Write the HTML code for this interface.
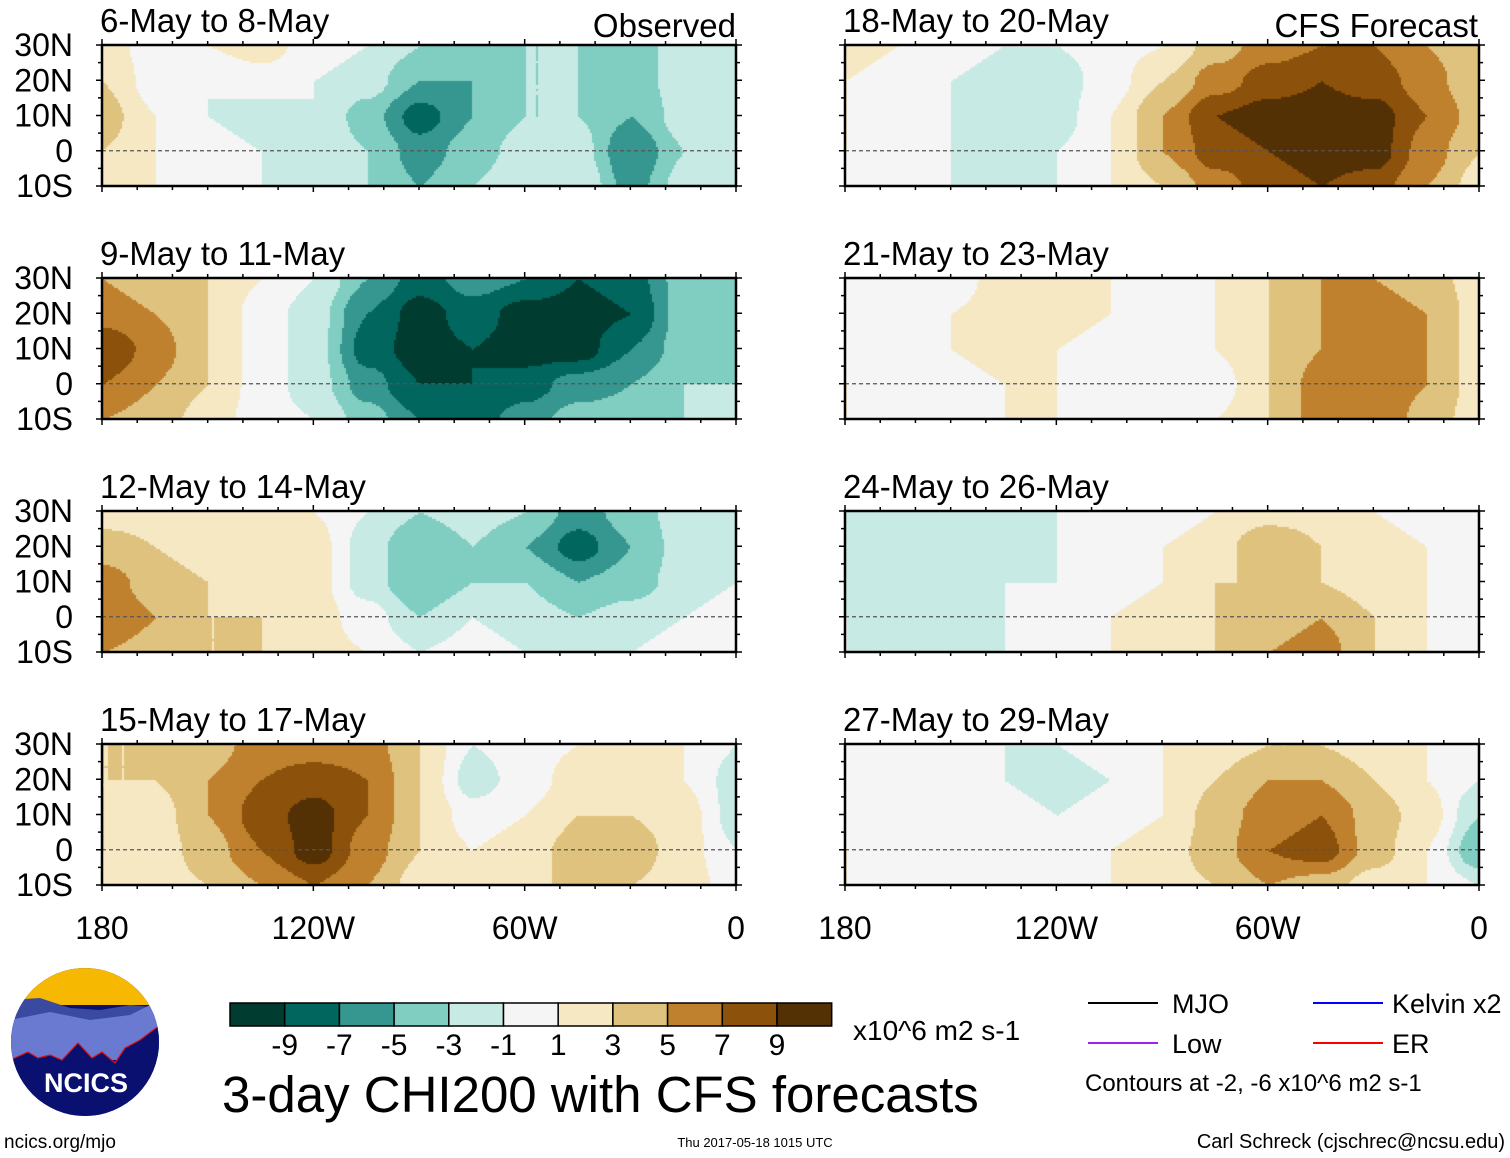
<!DOCTYPE html>
<html><head><meta charset="utf-8">
<style>
body{margin:0;background:#fff;width:1510px;height:1158px;overflow:hidden;position:relative;font-family:"Liberation Sans",Arial,sans-serif}
canvas{position:absolute}
</style></head><body>
<svg id="ov" width="1510" height="1158" style="position:absolute;left:0;top:0"></svg>
<script>
const lons=[180,165,150,135,120,105,90,75,60,45,30,15,0];
const lats=[30,20,10,0,-10];
const titles=["6-May to 8-May","9-May to 11-May","12-May to 14-May","15-May to 17-May","18-May to 20-May","21-May to 23-May","24-May to 26-May","27-May to 29-May"];
const levels=[-9,-7,-5,-3,-1,1,3,5,7,9];
const colors=["#003c30","#01665e","#35978f","#80cdc1","#c7eae5","#f5f5f5","#f6e8c3","#dfc27d","#bf812d","#8c510a","#543005"];
const latTicks=["30N","20N","10N","0","10S"];
const lonTicks=["180","120W","60W","0"];
const p1=[[2,0,1,2,0,-1,-3,-4,-3,-3,-4,-2,-1],[3,0,-1,0,-1,-2,-5,-5,-3,-3,-4,-2,-1],[4,1,-1,-2,-1,-4,-8,-5,-3,-3,-5,-2,-1],[3,1,0,-1,-1,-3,-6,-4,-2,-2,-7,-3,-1],[2,1,0,-1,-2,-3,-5,-3,-1,-1,-6,-2,-1]];
const p2=[[5,4,3,1,-1,-5,-8,-6,-7,-9,-8,-4,-3],[6,5,3,0,-2,-7,-10,-8,-10,-10,-9,-4,-3],[9,6,3,0,-2,-8,-10,-9,-10,-10,-7,-4,-3],[7,5,3,0,-2,-6,-9,-9,-8,-6,-5,-3,-3],[5,4,2,0,-1,-4,-7,-8,-6,-4,-4,-3,-2]];
const p3=[[2,2,1,1,1,-1,-3,-2,-3,-6,-4,-2,-1],[4,3,2,1,2,-2,-5,-3,-5,-8,-5,-2,-1],[6,4,3,2,2,-2,-5,-3,-3,-5,-4,-2,-1],[7,5,3,3,2,0,-3,-1,-2,-3,-2,-1,0],[5,4,3,3,2,1,-1,0,-1,-2,-1,0,0]];
const p4=[[3,3,4,6,6,6,3,-1,0,1,2,1,-1],[3,3,5,7,8,7,3,-2,0,2,2,1,-2],[3,2,5,8,10,7,3,0,1,3,3,2,-2],[3,2,4,7,10,6,3,1,2,4,4,2,-1],[2,2,3,5,7,5,2,1,2,4,3,2,0]];
const p5=[[2,1,0,-1,-1,0,1,4,6,7,7,5,3],[1,0,-1,-2,-2,0,3,6,8,9,8,6,3],[1,0,-1,-3,-2,1,5,9,10,10,10,7,4],[1,0,-1,-2,-1,1,5,8,9,10,10,6,3],[-1,-1,-1,-1,-1,1,3,6,8,9,8,5,2]];
const p6=[[1,1,0,2,2,1,0,1,3,5,5,4,2],[0,1,1,2,2,1,0,1,3,5,6,5,2],[0,0,1,2,1,0,-1,1,3,5,6,5,2],[1,0,0,1,1,0,-1,0,3,6,7,5,2],[1,0,0,1,1,0,0,1,3,6,7,4,2]];
const p7=[[-1,-2,-2,-2,-1,0,0,1,2,2,1,0,-1],[-3,-2,-2,-2,-1,0,1,2,5,3,2,1,-1],[-3,-3,-2,-1,-1,0,1,3,3,3,2,1,0],[-1,-3,-2,-1,0,1,2,3,4,5,3,1,0],[-1,-1,-1,-1,0,1,2,3,5,6,3,1,0]];
const p8=[[0,0,0,-1,-1,0,1,2,3,3,2,1,0],[0,0,0,-1,-2,-1,1,3,5,5,3,1,-1],[0,0,0,0,-1,0,1,4,6,7,4,2,-3],[1,0,0,0,0,1,2,4,7,8,4,1,-5],[1,0,0,1,0,1,2,3,5,4,2,1,-1]];
const panelData=[p1,p2,p3,p4,p5,p6,p7,p8];

const SVGNS="http://www.w3.org/2000/svg";
const ov=document.getElementById('ov');
const colX=[102,845], rowY=[45,278,511,744], PW=634, PH=141;
function xOf(lonW,x0){return x0+(180-lonW)/180*PW;}
function yOf(lat,y0){return y0+(30-lat)/40*PH;}
function colorFor(v){let i=0;while(i<levels.length&&v>=levels[i])i++;return colors[i];}
function el(tag,attrs,parent){const e=document.createElementNS(SVGNS,tag);for(const k in attrs)e.setAttribute(k,attrs[k]);(parent||ov).appendChild(e);return e;}
function txt(s,x,y,size,anchor,parent){const t=el('text',{x:x,y:y,'font-size':size,'text-anchor':anchor||'start','font-family':'Liberation Sans, Arial, sans-serif',fill:'#000'},parent);t.textContent=s;return t;}

panelData.forEach((d,pi)=>{
  const x0=colX[pi<4?0:1], y0=rowY[pi%4];
  const cv=document.createElement('canvas');
  cv.width=PW;cv.height=PH;cv.style.left=x0+'px';cv.style.top=y0+'px';
  
  
  document.body.insertBefore(cv,ov);
  const ctx=cv.getContext('2d');
  const nc=lons.length-1, nr=lats.length-1;
  for(let py=0;py<PH;py+=2){for(let px=0;px<PW;px+=2){
    const fx=px/PW*nc, fy=py/PH*nr;
    const i=Math.min(nc-1,Math.floor(fx)), j=Math.min(nr-1,Math.floor(fy));
    let u=fx-i,v=fy-j;
    u=u*u*(3-2*u);v=v*v*(3-2*v);
    const val=(d[j][i]*(1-u)+d[j][i+1]*u)*(1-v)+(d[j+1][i]*(1-u)+d[j+1][i+1]*u)*v;
    ctx.fillStyle=colorFor(val);ctx.fillRect(px,py,2,2);
  }}
  const g=el('g',{});
  
  
  const eq=el('line',{x1:x0,x2:x0+PW,y1:yOf(0,y0),y2:yOf(0,y0),stroke:'#555','stroke-dasharray':'4,3','stroke-width':1.3},g);
  
  
  const fr=el('rect',{x:x0,y:y0,width:PW,height:PH,fill:'none',stroke:'#000','stroke-width':2.5},g);
  
  
  for(let lon=180;lon>=0;lon-=10){const x=xOf(lon,x0);const L=lon%60===0?6:4;
    el('line',{x1:x,x2:x,y1:y0-L,y2:y0,stroke:'#000','stroke-width':1.5},g);
    el('line',{x1:x,x2:x,y1:y0+PH,y2:y0+PH+L,stroke:'#000','stroke-width':1.5},g);}
  for(let lat=30;lat>=-10;lat-=5){const y=yOf(lat,y0);const L=lat%10===0?6:4;
    el('line',{x1:x0-L,x2:x0,y1:y,y2:y,stroke:'#000','stroke-width':1.5},g);
    el('line',{x1:x0+PW,x2:x0+PW+L,y1:y,y2:y,stroke:'#000','stroke-width':1.5},g);}
  const tt=txt(titles[pi],x0-2,y0-13,33,'start',g);
  
  
  if(pi<4){latTicks.forEach((s,k)=>{const t=txt(s,73,yOf(lats[k],y0)+11,32,'end',g);
    
    });}
  if(pi%4===3){lonTicks.forEach((s,k)=>{const t=txt(s,xOf(180-60*k,x0),y0+PH+54,32,'middle',g);
    
    });}
});
const ob=txt("Observed",736,37,33,'end');
const cf=txt("CFS Forecast",1478,37,33,'end');
const cb=el('g',{});
const bw=54.7;
colors.forEach((c,i)=>{const r=el('rect',{x:230+i*bw,y:1003,width:bw,height:23,fill:c,stroke:'#000','stroke-width':1.5},cb);
  });
levels.forEach((v,i)=>{const t=txt(String(v),230+(i+1)*bw,1055,30,'middle',cb);
  });
const un=txt("x10^6 m2 s-1",853,1040,28);
const ti=txt("3-day CHI200 with CFS forecasts",222,1112,51);
const lg=[["MJO","#000",1088,1003,1172],["Low","#a020f0",1088,1043,1172],["Kelvin x2","#0000ff",1313,1003,1392],["ER","#ff0000",1313,1043,1392]];
lg.forEach(([s,c,x,y,tx])=>{const gg=el('g',{});
  el('line',{x1:x,x2:x+70,y1:y,y2:y,stroke:c,'stroke-width':2},gg);txt(s,tx,y+10,27,'start',gg);});
const ct=txt("Contours at -2, -6 x10^6 m2 s-1",1085,1091,24);
const f1=txt("ncics.org/mjo",4,1148,19);
const f2=txt("Thu 2017-05-18 1015 UTC",755,1147,13,'middle');
const f3=txt("Carl Schreck (cjschrec@ncsu.edu)",1505,1148,20,'end');
const lo=el('g',{});
el('defs',{},lo).innerHTML='<clipPath id="lc"><circle cx="85" cy="1042" r="74"/></clipPath>';
const lg2=el('g',{'clip-path':'url(#lc)'},lo);
el('rect',{x:0,y:960,width:170,height:170,fill:'#0a1070'},lg2);
el('rect',{x:0,y:960,width:170,height:45,fill:'#f6b800'},lg2);
el('path',{d:'M10 1000 L40 998 L70 1008 L100 1010 L130 1005 L160 1008 L160 1060 L10 1060 Z',fill:'#3a4aa0'},lg2);
el('path',{d:'M10 1020 L50 1012 L90 1020 L130 1015 L160 1000 L160 1060 L10 1060 Z',fill:'#6a7ad0'},lg2);
el('path',{d:'M10 1060 L28 1052 L38 1058 L50 1055 L62 1060 L78 1043 L92 1058 L102 1052 L115 1063 L125 1048 L140 1040 L160 1025 L160 1130 L10 1130 Z',fill:'#0a1070',stroke:'#e01010','stroke-width':1.2},lg2);
const nt=txt("NCICS",86,1092,27,'middle',lo);nt.setAttribute('fill','#fff');nt.setAttribute('font-weight','bold');
</script>
</body></html>
